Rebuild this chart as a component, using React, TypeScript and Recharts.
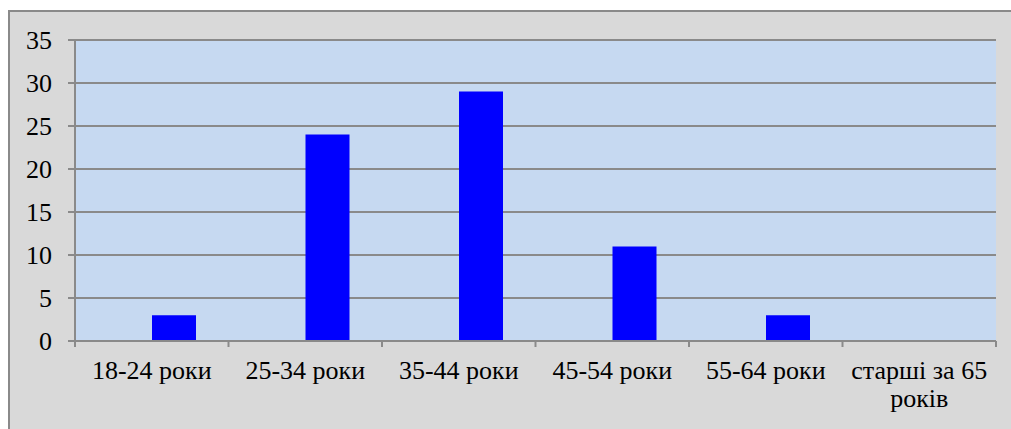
import { BarChart, Bar, XAxis, YAxis, CartesianGrid } from 'recharts'

const categories = ['18-24 роки', '25-34 роки', '35-44 роки', '45-54 роки', '55-64 роки', 'старші за 65 років']
// the source chart has an empty first series that takes the left slot of each group
const emptySeries = [null, null, null, null, null, null]
const values = [3, 24, 29, 11, 3, 0]
const yTicks = [0, 5, 10, 15, 20, 25, 30, 35]

const data = categories.map((name, i) => ({ name, empty: emptySeries[i], value: values[i] }))

const GRAY = '#8a8a8a'
const FONT = 'Liberation Serif'
const FONT_SIZE = 26

let ctx: CanvasRenderingContext2D | null = null
function measure(s: string) {
  if (!ctx) ctx = document.createElement('canvas').getContext('2d')
  if (!ctx) return s.length * FONT_SIZE * 0.5
  ctx.font = `${FONT_SIZE}px '${FONT}'`
  return ctx.measureText(s).width
}

function wrap(label: string, maxWidth: number) {
  const words = label.split(' ')
  const lines: string[] = []
  let cur = ''
  for (const w of words) {
    const next = cur ? `${cur} ${w}` : w
    if (cur && measure(next) > maxWidth) {
      lines.push(cur)
      cur = w
    } else {
      cur = next
    }
  }
  if (cur) lines.push(cur)
  return lines
}

function CategoryTick(props: any) {
  const { x, y, payload, index, visibleTicksCount } = props
  const half = payload.offset ?? 76
  const axisY = y - 20
  const isLast = index === visibleTicksCount - 1
  const lines = wrap(String(payload.value), half * 2 - 6)
  return (
    <g>
      <line x1={x - half} y1={axisY} x2={x - half} y2={axisY + 6} stroke={GRAY} strokeWidth={2} />
      {isLast && <line x1={x + half} y1={axisY} x2={x + half} y2={axisY + 6} stroke={GRAY} strokeWidth={2} />}
      <text x={x} y={y + 18} textAnchor="middle" fill="#000" fontFamily={FONT} fontSize={FONT_SIZE}>
        {lines.map((l, i) => (
          <tspan key={i} x={x} dy={i === 0 ? 0 : 28}>
            {l}
          </tspan>
        ))}
      </text>
    </g>
  )
}

function ValueTick(props: any) {
  const { x, y, payload } = props
  return (
    <text x={x} y={y} dy={9} textAnchor="end" fill="#000" fontFamily={FONT} fontSize={FONT_SIZE}>
      {payload.value}
    </text>
  )
}

export default function App() {
  return (
    <div
      style={{
        position: 'fixed',
        left: 8,
        top: 10,
        width: 1003,
        height: 419,
        background: '#d9d9d9',
        borderTop: `2px solid ${GRAY}`,
        borderLeft: `2px solid ${GRAY}`,
        boxSizing: 'border-box',
        overflow: 'hidden',
      }}
    >
      <BarChart
        width={1001}
        height={417}
        data={data}
        margin={{ top: 28, right: 15, bottom: 0, left: 0 }}
        barSize={44}
        barGap={0}
        style={{ fontFamily: FONT }}
      >
        <CartesianGrid
          vertical={false}
          stroke={GRAY}
          strokeWidth={2}
          fill="#c6d9f1"
          fillOpacity={1}
        />
        <XAxis
          dataKey="name"
          height={88}
          interval={0}
          axisLine={{ stroke: GRAY, strokeWidth: 2 }}
          tickLine={false}
          tickSize={6}
          tickMargin={14}
          tick={<CategoryTick />}
        />
        <YAxis
          width={65}
          domain={[0, 35]}
          ticks={yTicks}
          interval={0}
          axisLine={{ stroke: GRAY, strokeWidth: 2 }}
          tickLine={{ stroke: GRAY, strokeWidth: 2 }}
          tickSize={7}
          tickMargin={16}
          tick={<ValueTick />}
        />
        <Bar dataKey="empty" fill="#0000ff" isAnimationActive={false} />
        <Bar dataKey="value" fill="#0000ff" isAnimationActive={false} />
      </BarChart>
    </div>
  )
}
